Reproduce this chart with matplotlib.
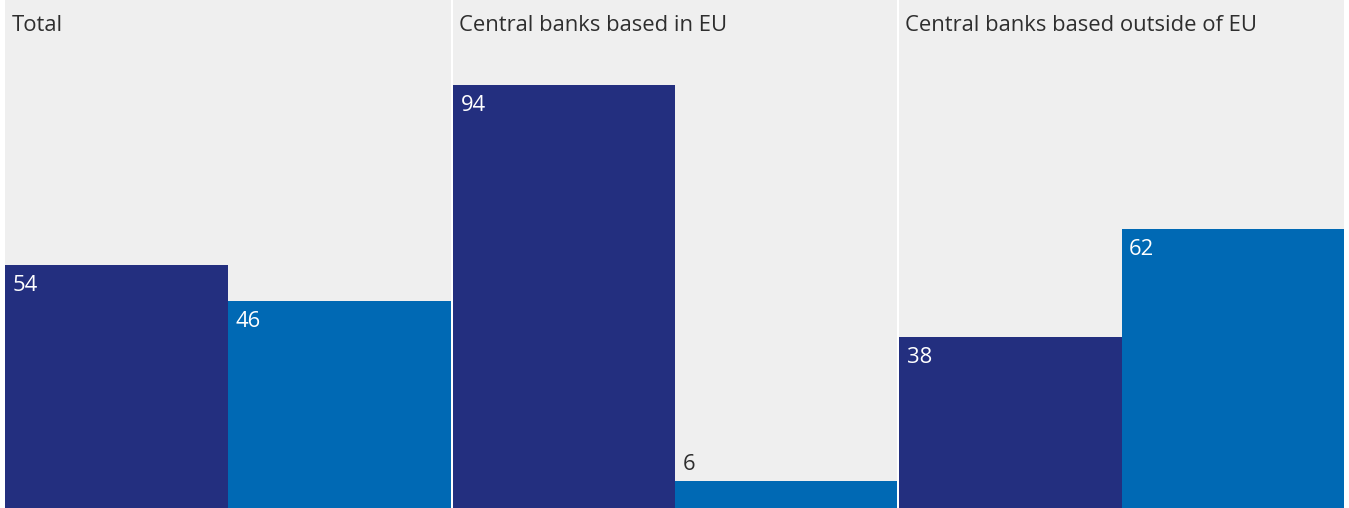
import matplotlib.pyplot as plt

# data
panels = ['Total', 'Central banks based in EU', 'Central banks based outside of EU']
series_a = [54, 94, 38]
series_b = [46, 6, 62]

navy = '#232F7F'
blue = '#0069B4'
grey = '#EFEFEF'

W, H = 1349, 508
fig = plt.figure(figsize=(W / 100, H / 100), dpi=100)
fig.patch.set_facecolor('white')

plt.rcParams['font.family'] = ['Open Sans', 'DejaVu Sans']

# panel extents in pixels (left, right)
edges = [(5, 451), (453, 897), (899, 1344)]
ymax = H / 4.5

for i, (title, a, b) in enumerate(zip(panels, series_a, series_b)):
    l, r = edges[i]
    ax = fig.add_axes([l / W, 0, (r - l) / W, 1])
    ax.set_facecolor(grey)
    ax.bar([0, 1], [a, b], width=1.0, color=[navy, blue], linewidth=0)
    ax.set_xlim(-0.5, 1.5)
    ax.set_ylim(0, ymax)
    for s in ax.spines.values():
        s.set_visible(False)
    ax.set_xticks([])
    ax.set_yticks([])

    ax.annotate(title, (0, 1), xycoords='axes fraction', xytext=(4.5, -11),
                textcoords='offset points', ha='left', va='top',
                fontsize=15.8, color='#2e2e2e')

    for x, v in zip([0, 1], [a, b]):
        if v > 10:
            ax.annotate(str(v), (x - 0.5, v), xytext=(5.5, -7), textcoords='offset points',
                        ha='left', va='top', fontsize=15.8, color='white')
        else:
            ax.annotate(str(v), (x - 0.5, v), xytext=(5.5, 4), textcoords='offset points',
                        ha='left', va='bottom', fontsize=15.8, color='#2e2e2e')

fig.savefig('out.png', dpi=100, facecolor=fig.get_facecolor())
